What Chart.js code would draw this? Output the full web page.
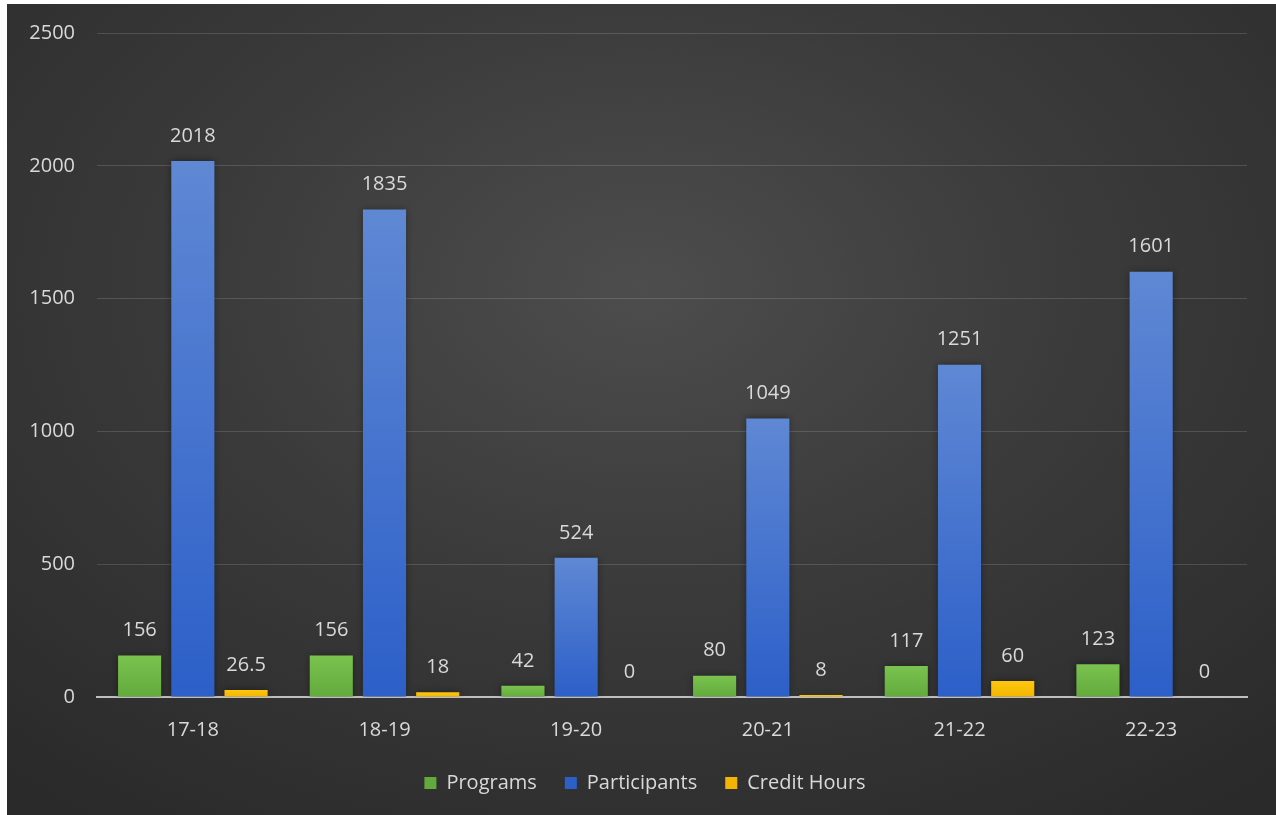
<!DOCTYPE html>
<html>
<head>
<meta charset="utf-8">
<script src="https://cdn.jsdelivr.net/npm/chart.js@4/dist/chart.umd.min.js"></script>
<style>
    html, body {
        margin: 0;
        padding: 0;
        background: #ffffff;
        overflow: hidden;
    }
    #wrap {
        position: absolute;
        left: 7px;
        top: 4px;
        width: 1269px;
        height: 811px;
        background: radial-gradient(ellipse 75% 80% at 50% 35%, #4d4d4d 0%, #3b3b3b 45%, #2a2a2a 100%);
    }
</style>
</head>
<body>
<div id="wrap"><canvas id="programChart" width="1269" height="811"></canvas></div>
<script>
// ========== DATA ==========
const years = ["17-18", "18-19", "19-20", "20-21", "21-22", "22-23"];
const programs = [156, 156, 42, 80, 117, 123];
const participants = [2018, 1835, 524, 1049, 1251, 1601];
const creditHours = [26.5, 18, 0, 8, 60, 0];
const yTicks = [0, 500, 1000, 1500, 2000, 2500];

const textColor = "#d9d9d9";
const fontFamily = "'Open Sans', 'Noto Sans', sans-serif";
const fontSize = 20;

// Vertical gradient per bar, lighter at the top
function barGradient(top, bottom) {
    return function (context) {
        const chart = context.chart;
        const area = chart.chartArea;
        if (!area || context.dataIndex === undefined) return bottom;
        const yScale = chart.scales.y;
        const value = context.dataset.data[context.dataIndex];
        const y0 = yScale.getPixelForValue(value);
        const y1 = yScale.getPixelForValue(0);
        if (y1 - y0 < 1) return bottom;
        const g = chart.ctx.createLinearGradient(0, y0, 0, y1);
        g.addColorStop(0, top);
        g.addColorStop(1, bottom);
        return g;
    };
}

// ========== PLUGINS ==========
// Soft dark halo behind the bars
const barShadow = {
    id: "barShadow",
    beforeDatasetsDraw(chart) {
        const ctx = chart.ctx;
        ctx.save();
        ctx.shadowColor = "rgba(0, 0, 0, 0.45)";
        ctx.shadowBlur = 7;
    },
    afterDatasetsDraw(chart) {
        chart.ctx.restore();
    }
};

// Value labels above each bar
const valueLabels = {
    id: "valueLabels",
    afterDatasetsDraw(chart) {
        const ctx = chart.ctx;
        ctx.save();
        ctx.fillStyle = textColor;
        ctx.font = fontSize + "px " + fontFamily;
        ctx.textAlign = "center";
        ctx.textBaseline = "middle";
        chart.data.datasets.forEach((ds, i) => {
            const meta = chart.getDatasetMeta(i);
            meta.data.forEach((bar, j) => {
                ctx.fillText(String(ds.data[j]), bar.x, bar.y - 25);
            });
        });
        ctx.restore();
    }
};

// Legend row counts its trailing padding, nudge it back to the middle
const legendNudge = {
    id: "legendNudge",
    afterLayout(chart) {
        chart.legend.left += 18;
        chart.legend.right += 18;
    }
};

// ========== CHART ==========
const ctx = document.getElementById("programChart").getContext("2d");
new Chart(ctx, {
    type: "bar",
    data: {
        labels: years,
        datasets: [
            {
                label: "Programs",
                data: programs,
                backgroundColor: barGradient("#7ac34f", "#62aa3c"),
                categoryPercentage: 0.833,
                barPercentage: 0.81
            },
            {
                label: "Participants",
                data: participants,
                backgroundColor: barGradient("#5f88d4", "#2c5fc8"),
                categoryPercentage: 0.833,
                barPercentage: 0.81
            },
            {
                label: "Credit Hours",
                data: creditHours,
                backgroundColor: barGradient("#ffc70f", "#f2b600"),
                categoryPercentage: 0.833,
                barPercentage: 0.81
            }
        ]
    },
    options: {
        responsive: false,
        animation: false,
        layout: {
            padding: { top: 29, right: 29, bottom: 12, left: 0 }
        },
        plugins: {
            legend: {
                position: "bottom",
                labels: {
                    color: textColor,
                    font: { size: fontSize, family: fontFamily },
                    boxWidth: 12,
                    boxHeight: 12,
                    padding: 28
                }
            },
            tooltip: { enabled: false }
        },
        scales: {
            y: {
                min: 0,
                max: 2500,
                afterBuildTicks: function (scale) {
                    scale.ticks = yTicks.map(v => ({ value: v }));
                },
                afterFit: function (scale) {
                    // tick padding is horizontal here, keep it out of the top gap
                    scale.width = 90;
                    scale.paddingTop = 12;
                    scale.paddingBottom = 12;
                },
                ticks: {
                    color: textColor,
                    font: { size: fontSize, family: fontFamily },
                    padding: 22,
                    callback: function (value) {
                        return String(value);
                    }
                },
                grid: {
                    color: "rgba(255, 255, 255, 0.14)",
                    lineWidth: 1,
                    drawTicks: false
                },
                border: { display: false }
            },
            x: {
                afterFit: function (scale) {
                    scale.height = 48;
                },
                ticks: {
                    color: textColor,
                    font: { size: fontSize, family: fontFamily },
                    padding: 21
                },
                grid: {
                    display: false,
                    drawTicks: false
                },
                border: {
                    display: true,
                    color: "#bfbfbf",
                    width: 2
                }
            }
        }
    },
    plugins: [barShadow, valueLabels, legendNudge]
});
</script>
</body>
</html>
